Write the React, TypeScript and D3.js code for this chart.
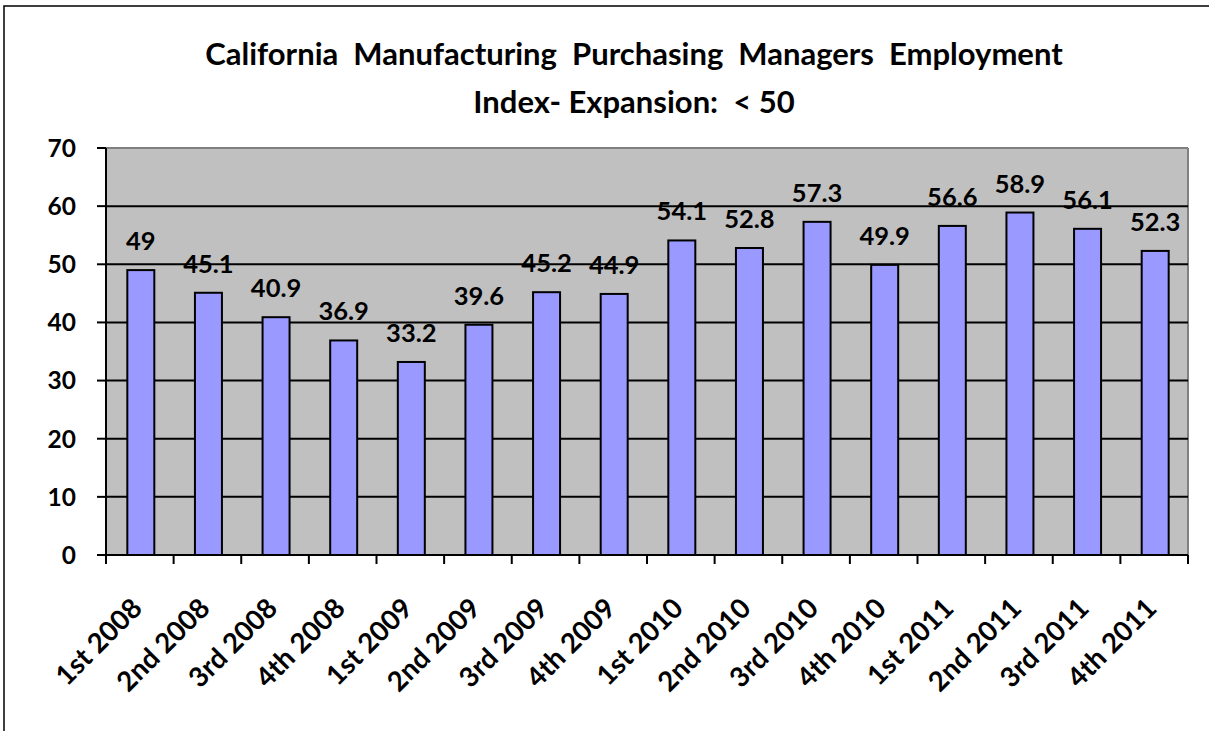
import React from 'react';
import * as d3 from 'd3';

const categories = [
  '1st 2008', '2nd 2008', '3rd 2008', '4th 2008',
  '1st 2009', '2nd 2009', '3rd 2009', '4th 2009',
  '1st 2010', '2nd 2010', '3rd 2010', '4th 2010',
  '1st 2011', '2nd 2011', '3rd 2011', '4th 2011',
];
const values = [49, 45.1, 40.9, 36.9, 33.2, 39.6, 45.2, 44.9, 54.1, 52.8, 57.3, 49.9, 56.6, 58.9, 56.1, 52.3];
const yTicks = [0, 10, 20, 30, 40, 50, 60, 70];
const titleLines = ['California  Manufacturing  Purchasing  Managers  Employment', 'Index- Expansion:  < 50'];

const W = 1209;
const H = 731;
const FONT = 'Lato, "Open Sans", "DejaVu Sans", sans-serif';

const App: React.FC = () => {
  // plot area
  const left = 106;
  const right = 1188;
  const top = 148;
  const bottom = 555;

  const x = d3.scaleBand<string>().domain(categories).range([left, right]).padding(0);
  const y = d3.scaleLinear().domain([0, 70]).range([bottom, top]);
  const barW = 27;

  return (
    <svg width={W} height={H} style={{ position: 'absolute', left: 0, top: 0, background: '#fff' }}>
      {/* chart border */}
      <rect x={4} y={6} width={W + 10} height={H + 10} fill="#fff" stroke="#000" strokeWidth={1.5} />

      {/* title */}
      {titleLines.map((t, i) => (
        <text key={i} x={634} y={65 + i * 48} textAnchor="middle" fontFamily={FONT}
          fontWeight="bold" fontSize={31} fill="#000" style={{ whiteSpace: 'pre' }}>{t}</text>
      ))}

      {/* plot background */}
      <rect x={left} y={top} width={right - left} height={bottom - top} fill="#C0C0C0" />
      <line x1={left} x2={right} y1={top} y2={top} stroke="#808080" strokeWidth={2} />
      <line x1={right} x2={right} y1={top} y2={bottom} stroke="#808080" strokeWidth={2} />

      {/* gridlines + y ticks */}
      {yTicks.map(t => (
        <g key={t}>
          {t > 0 && t < 70 && (
            <line x1={left} x2={right} y1={y(t)} y2={y(t)} stroke="#000" strokeWidth={2} />
          )}
          <line x1={left - 9} x2={left} y1={y(t)} y2={y(t)} stroke="#000" strokeWidth={2} />
          <text x={76} y={y(t)} dy="0.36em" textAnchor="end" fontFamily={FONT}
            fontWeight="bold" fontSize={24.5} fill="#000">{t}</text>
        </g>
      ))}

      {/* bars */}
      {categories.map((c, i) => {
        const cx = (x(c) as number) + x.bandwidth() / 2 + 1;
        return (
          <g key={c}>
            <rect x={cx - barW / 2} y={y(values[i])} width={barW} height={bottom - y(values[i])}
              fill="#9999FF" stroke="#000" strokeWidth={2} />
            <text x={cx} y={y(values[i]) - 20} textAnchor="middle" fontFamily={FONT}
              fontWeight="bold" fontSize={25.5} fill="#000">{values[i]}</text>
          </g>
        );
      })}

      {/* axes */}
      <line x1={left} x2={left} y1={top} y2={bottom} stroke="#000" strokeWidth={2} />
      <line x1={left} x2={right} y1={bottom} y2={bottom} stroke="#000" strokeWidth={2} />
      {[...categories.map(c => x(c) as number), right].map((px, i) => (
        <line key={i} x1={px} x2={px} y1={bottom} y2={bottom + 9} stroke="#000" strokeWidth={2} />
      ))}

      {/* x labels */}
      {categories.map(c => {
        const cx = (x(c) as number) + x.bandwidth() / 2 + 4;
        const ly = bottom + 55;
        return (
          <text key={c} x={cx} y={ly} textAnchor="end" fontFamily={FONT} fontWeight="bold"
            fontSize={27.5} fill="#000" transform={`rotate(-45, ${cx}, ${ly})`}>{c}</text>
        );
      })}
    </svg>
  );
};

export default App;
